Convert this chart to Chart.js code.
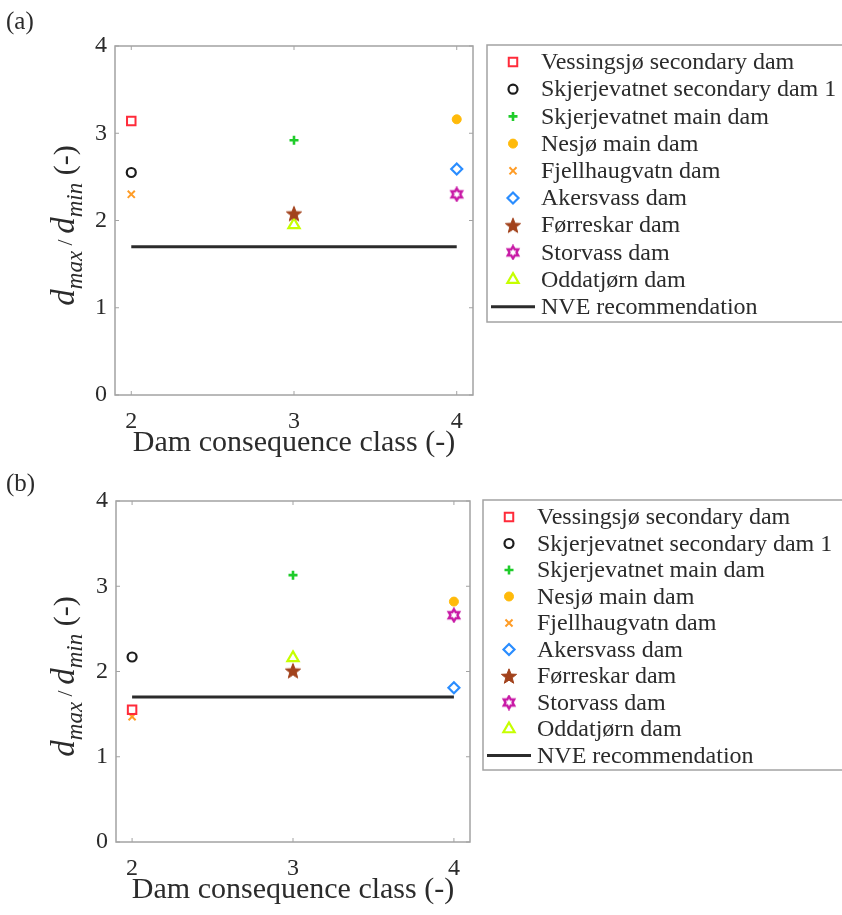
<!DOCTYPE html>
<html>
<head>
<meta charset="utf-8">
<script src="https://cdn.jsdelivr.net/npm/chart.js@4.4.1/dist/chart.umd.min.js"></script>
<style>
  html, body { margin: 0; padding: 0; background: #fff; }
  #wrap { position: relative; width: 842px; height: 915px; overflow: hidden; }
  .panel { position: absolute; left: 0; width: 842px; }
</style>
</head>
<body>
<div id="wrap">
  <div class="panel" style="top:0;height:470px"><canvas id="chartA" width="842" height="470"></canvas></div>
  <div class="panel" style="top:457px;height:458px"><canvas id="chartB" width="842" height="458"></canvas></div>
</div>
<script>
// dam names and consequence class
const dams = ["Vessingsjø secondary dam", "Skjerjevatnet secondary dam 1", "Skjerjevatnet main dam",
  "Nesjø main dam", "Fjellhaugvatn dam", "Akersvass dam", "Førreskar dam", "Storvass dam", "Oddatjørn dam"];
const damClass = [2, 2, 3, 4, 2, 4, 3, 4, 3];

// d_max / d_min, panel (a) and (b)
const ratioA = [3.14, 2.55, 2.92, 3.16, 2.30, 2.59, 2.08, 2.30, 1.95];
const ratioB = [1.55, 2.17, 3.13, 2.82, 1.47, 1.81, 2.01, 2.66, 2.16];

const nveLabel = "NVE recommendation";
const nveClass = [2, 4];
const nveRatio = [1.7, 1.7];

const xTicks = [2, 3, 4];
const yTicks = [0, 1, 2, 3, 4];

const serif = "'Liberation Serif', 'Times New Roman', serif";
const textColor = "#2b2b2b";

function makeStar(color) {
  const c = document.createElement("canvas");
  c.width = 18; c.height = 18;
  const g = c.getContext("2d");
  g.beginPath();
  for (let i = 0; i < 10; i++) {
    const r = i % 2 === 0 ? 8 : 3.4;
    const a = -Math.PI / 2 + i * Math.PI / 5;
    const px = 9 + r * Math.cos(a), py = 9.8 + r * Math.sin(a);
    if (i === 0) g.moveTo(px, py); else g.lineTo(px, py);
  }
  g.closePath();
  g.fillStyle = color; g.fill();
  g.strokeStyle = color; g.lineWidth = 1; g.stroke();
  return c;
}

function makeHexagram(color) {
  const c = document.createElement("canvas");
  c.width = 16; c.height = 16;
  const g = c.getContext("2d");
  g.beginPath();
  for (let i = 0; i < 12; i++) {
    const r = i % 2 === 0 ? 6 : 3.5;
    const a = -Math.PI / 2 + i * Math.PI / 6;
    const px = 8 + r * Math.cos(a), py = 8 + r * Math.sin(a);
    if (i === 0) g.moveTo(px, py); else g.lineTo(px, py);
  }
  g.closePath();
  g.strokeStyle = color; g.lineWidth = 2.4; g.stroke();
  return c;
}

const markers = [
  { style: "rect", color: "#ff2b3a", fill: false, r: 6, w: 2 },
  { style: "circle", color: "#1c1c1c", fill: false, r: 4.5, w: 2.2 },
  { style: "cross", color: "#1fcc2a", fill: false, r: 4.5, w: 2.6 },
  { style: "circle", color: "#ffba0a", fill: true, r: 4.5, w: 1 },
  { style: "crossRot", color: "#ff9c26", fill: false, r: 5, w: 2 },
  { style: "rectRot", color: "#2a8dff", fill: false, r: 5.5, w: 2.2 },
  { style: makeStar("#a2421c"), color: "#a2421c", fill: true, r: 7, w: 1 },
  { style: makeHexagram("#c81aa6"), color: "#c81aa6", fill: false, r: 6, w: 2 },
  { style: "triangle", color: "#c6ff00", fill: false, r: 6.5, w: 2.2 }
];

// frame box with small inward ticks, like the original figure
const framePlugin = {
  id: "frame",
  afterDraw(chart) {
    const { ctx, chartArea: a, scales } = chart;
    ctx.save();
    ctx.strokeStyle = "#a3a3a3";
    ctx.lineWidth = 1.5;
    ctx.strokeRect(a.left, a.top, a.right - a.left, a.bottom - a.top);
    ctx.lineWidth = 1;
    ctx.beginPath();
    xTicks.forEach(v => {
      const px = scales.x.getPixelForValue(v);
      ctx.moveTo(px, a.bottom); ctx.lineTo(px, a.bottom - 4);
      ctx.moveTo(px, a.top); ctx.lineTo(px, a.top + 4);
    });
    yTicks.forEach(v => {
      const py = scales.y.getPixelForValue(v);
      ctx.moveTo(a.left, py); ctx.lineTo(a.left + 4, py);
      ctx.moveTo(a.right, py); ctx.lineTo(a.right - 4, py);
    });
    ctx.stroke();
    ctx.restore();
  }
};

// y axis title with subscripts: d_max / d_min (-)
const yTitlePlugin = {
  id: "yTitle",
  afterDraw(chart, args, opts) {
    const { ctx, chartArea: a } = chart;
    const pieces = [
      { t: "d", f: "italic 33px " + serif, dy: 0 },
      { t: "max", f: "italic 23px " + serif, dy: 8 },
      { t: " / ", f: "22px " + serif, dy: -2 },
      { t: "d", f: "italic 33px " + serif, dy: 0 },
      { t: "min", f: "italic 23px " + serif, dy: 8 },
      { t: " (-)", f: "30px " + serif, dy: 0 }
    ];
    ctx.save();
    let total = 0;
    pieces.forEach(p => { ctx.font = p.f; p.w = ctx.measureText(p.t).width; total += p.w; });
    ctx.translate(opts.x, (a.top + a.bottom) / 2 + opts.dy);
    ctx.rotate(-Math.PI / 2);
    ctx.fillStyle = textColor;
    ctx.textBaseline = "alphabetic";
    let x = -total / 2;
    pieces.forEach(p => {
      ctx.font = p.f;
      ctx.fillText(p.t, x, p.dy);
      x += p.w;
    });
    ctx.restore();
  }
};

// boxed legend to the right of the axes
const legendPlugin = {
  id: "damLegend",
  afterDraw(chart, args, opts) {
    const { ctx, chartArea: a } = chart;
    const left = a.right + opts.gap;
    const top = a.top + opts.dy;
    ctx.save();
    ctx.fillStyle = "#fff";
    ctx.fillRect(left, top, 900 - left, opts.height);
    ctx.strokeStyle = "#a3a3a3";
    ctx.lineWidth = 1.5;
    ctx.strokeRect(left, top, 900 - left, opts.height);
    ctx.font = opts.fontSize + "px " + serif;
    ctx.textBaseline = "middle";
    chart.data.datasets.forEach((ds, i) => {
      const y = top + opts.first + i * opts.step;
      const mx = left + 26;
      if (ds.showLine) {
        ctx.strokeStyle = ds.borderColor;
        ctx.lineWidth = ds.borderWidth;
        ctx.beginPath();
        ctx.moveTo(left + 4, y); ctx.lineTo(left + 48, y);
        ctx.stroke();
      } else {
        ctx.strokeStyle = ds.pointBorderColor;
        ctx.fillStyle = ds.pointBackgroundColor;
        ctx.lineWidth = ds.pointBorderWidth;
        Chart.helpers.drawPoint(ctx, {
          pointStyle: ds.pointStyle, radius: ds.pointRadius, rotation: 0, borderWidth: ds.pointBorderWidth
        }, mx, y);
      }
      ctx.fillStyle = textColor;
      ctx.fillText(ds.label, left + 54, y + 1);
    });
    ctx.restore();
  }
};

const panelLabelPlugin = {
  id: "panelLabel",
  afterDraw(chart, args, opts) {
    const ctx = chart.ctx;
    ctx.save();
    ctx.font = "25px " + serif;
    ctx.fillStyle = textColor;
    ctx.textBaseline = "alphabetic";
    ctx.fillText(opts.text, 6, opts.y);
    ctx.restore();
  }
};

function buildChart(id, ratios, cfg) {
  const datasets = dams.map((name, i) => {
    const m = markers[i];
    const fill = m.fill ? m.color : "rgba(0,0,0,0)";
    return {
      label: name,
      data: [{ x: damClass[i], y: ratios[i] }],
      pointStyle: m.style,
      pointRadius: m.r,
      pointBorderWidth: m.w,
      pointBorderColor: m.color,
      pointBackgroundColor: fill,
      borderColor: m.color,
      backgroundColor: fill
    };
  });
  datasets.push({
    label: nveLabel,
    data: nveClass.map((x, i) => ({ x: x, y: nveRatio[i] })),
    showLine: true,
    borderColor: "#2b2b2b",
    borderWidth: 3,
    pointRadius: 0
  });

  return new Chart(document.getElementById(id), {
    type: "scatter",
    data: { datasets: datasets },
    plugins: [framePlugin, yTitlePlugin, legendPlugin, panelLabelPlugin],
    options: {
      responsive: false,
      animation: false,
      devicePixelRatio: 1,
      layout: { padding: cfg.padding },
      scales: {
        x: {
          type: "linear",
          min: 1.9, max: 4.1,
          afterBuildTicks: s => { s.ticks = xTicks.map(v => ({ value: v })); },
          afterFit: s => { s.height = 67; },
          grid: { display: false, drawTicks: false },
          border: { display: false },
          ticks: { font: { family: serif, size: 24 }, color: textColor, padding: 12 },
          title: {
            display: true, text: "Dam consequence class (-)",
            font: { family: serif, size: 30 }, color: textColor,
            padding: { top: 0, bottom: 1 }
          }
        },
        y: {
          min: 0, max: 4,
          afterBuildTicks: s => { s.ticks = yTicks.map(v => ({ value: v })); },
          afterFit: s => { s.width = 40; },
          grid: { display: false, drawTicks: false },
          border: { display: false },
          ticks: { font: { family: serif, size: 24 }, color: textColor, padding: 8 }
        }
      },
      plugins: {
        legend: { display: false },
        tooltip: { enabled: false },
        yTitle: { x: 74, dy: 5 },
        damLegend: cfg.legend,
        panelLabel: cfg.label
      }
    }
  });
}

buildChart("chartA", ratioA, {
  padding: { left: 75, top: 46, right: 369, bottom: 8 },
  legend: { gap: 14, dy: -1, height: 277, first: 17, step: 27.2, fontSize: 24 },
  label: { text: "(a)", y: 29 }
});

buildChart("chartB", ratioB, {
  padding: { left: 76, top: 44, right: 372, bottom: 6 },
  legend: { gap: 13, dy: -1, height: 270, first: 17, step: 26.5, fontSize: 24 },
  label: { text: "(b)", y: 34 }
});
</script>
</body>
</html>
